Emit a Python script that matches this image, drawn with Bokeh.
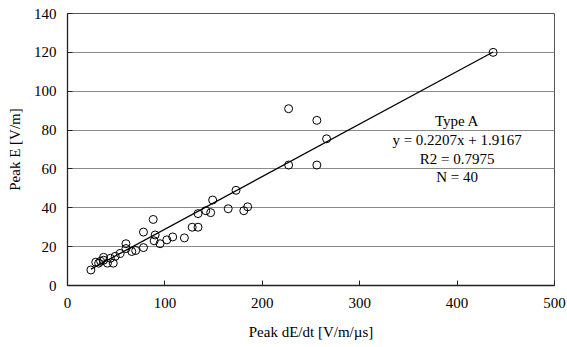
from bokeh.plotting import figure
from bokeh.models import Range1d, FixedTicker, ColumnDataSource
from bokeh.core.properties import value
from bokeh.embed import file_html
from bokeh.resources import INLINE

# Peak dE/dt [V/m/us] and Peak E [V/m]
dEdt = [437, 227, 256, 266, 227, 256,
        173, 149, 142, 134, 147, 165, 181, 185, 128, 134,
        102, 108, 120, 88, 78, 90, 95, 89, 78, 70, 60, 60, 66,
        49, 54, 37, 37, 29, 47, 41, 32, 24, 34, 44]
peakE = [120, 91, 85, 75.5, 62, 62,
         49, 44, 38.5, 37, 37.5, 39.5, 38.5, 40.5, 30, 30,
         23.5, 25, 24.5, 34, 27.5, 26, 21.5, 23, 19.5, 18, 21.5, 19, 17.5,
         15, 16.5, 14.5, 13, 12, 11.5, 11.5, 11.5, 8, 12.5, 14]

# Trendline endpoints as drawn in the reference
trend_x = [24, 437]
trend_y = [8.4, 120.2]

# Annotation
ann_text = ["Type A", "y = 0.2207x + 1.9167", "R2 = 0.7975", "N = 40"]
ann_x = [400, 400, 400, 400]
ann_y = [84.7, 75.1, 65.3, 55.6]

x_ticks = [0, 100, 200, 300, 400, 500]
y_ticks = [0, 20, 40, 60, 80, 100, 120, 140]

FONT = "Liberation Serif"

p = figure(width=567, height=347, output_backend="svg", toolbar_location=None,
           x_range=Range1d(0, 500), y_range=Range1d(0, 140),
           min_border_left=67, min_border_right=13, min_border_top=13,
           min_border_bottom=62)

p.background_fill_color = "white"
p.border_fill_color = "white"
p.outline_line_color = "#555555"
p.outline_line_width = 1

p.xgrid.visible = False
p.ygrid.grid_line_color = "#8a8a8a"
p.ygrid.grid_line_width = 1

p.xaxis.ticker = FixedTicker(ticks=x_ticks)
p.yaxis.ticker = FixedTicker(ticks=y_ticks)

for ax in (p.xaxis, p.yaxis):
    ax.axis_line_color = "#222222"
    ax.axis_line_width = 1.3
    ax.major_tick_in = 5
    ax.major_tick_out = 0
    ax.major_tick_line_color = "#222222"
    ax.minor_tick_line_color = None
    ax.major_label_text_font = FONT
    ax.major_label_text_font_size = "15px"
    ax.major_label_text_color = "black"
    ax.axis_label_text_font = FONT
    ax.axis_label_text_font_size = "15px"
    ax.axis_label_text_font_style = "normal"
    ax.axis_label_text_color = "black"

p.xaxis.axis_label = "Peak dE/dt [V/m/µs]"
p.yaxis.axis_label = "Peak E [V/m]"
p.xaxis.major_label_standoff = 12
p.yaxis.major_label_standoff = 11
p.xaxis.axis_label_standoff = 13
p.yaxis.axis_label_standoff = 8

src = ColumnDataSource(dict(x=dEdt, y=peakE))
p.line(trend_x, trend_y, line_color="black", line_width=1.3)
p.scatter("x", "y", source=src, marker="circle", size=8,
          fill_color=None, line_color="black", line_width=1)

p.text(x=ann_x, y=ann_y, text=ann_text, text_font=value(FONT),
       text_font_size="15px", text_align="center", text_baseline="middle",
       text_color="black")

open("out.html", "w").write(file_html(p, INLINE))
